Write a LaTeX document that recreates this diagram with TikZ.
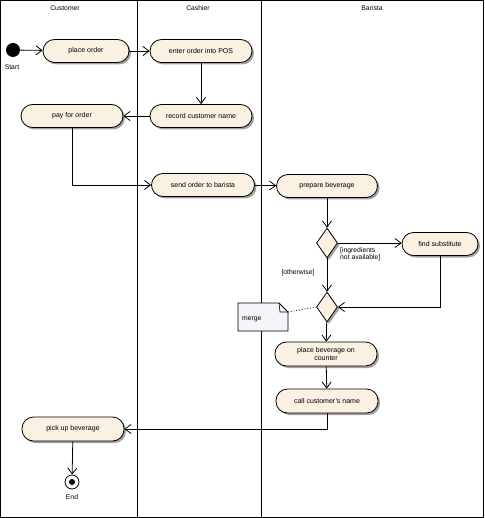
\documentclass[tikz,border=0pt]{standalone}
\usepackage{fontspec}
\setmainfont{Liberation Sans}
\usetikzlibrary{arrows.meta,shapes.geometric,shadows,calc}
\definecolor{actfill}{HTML}{FBF1E3}
\definecolor{notefill}{HTML}{F6F4F8}
\definecolor{shadowgray}{HTML}{A0A0A0}
\tikzset{
  act/.style={draw, line width=0.8pt, fill=actfill, rounded corners=11.5pt,
    minimum height=23pt, inner sep=1pt, align=center, font=\fontsize{7}{7.5}\selectfont,
    drop shadow={shadow xshift=2pt, shadow yshift=-2pt, fill=shadowgray, opacity=1}},
  dec/.style={draw, line width=0.8pt, fill=actfill, diamond, minimum width=21pt,
    minimum height=30pt, inner sep=0pt, aspect=0.7,
    drop shadow={shadow xshift=2pt, shadow yshift=-2pt, fill=shadowgray, opacity=1}},
  flow/.style={line width=0.8pt, -{Straight Barb[length=6pt,width=9pt,line width=0.8pt]}},
  lbl/.style={font=\fontsize{6.8}{7.6}\selectfont, inner sep=0pt},
  lane/.style={line width=0.8pt}
}
\begin{document}
\begin{tikzpicture}[x=1pt,y=-1pt]
\useasboundingbox (0,0) rectangle (484,518);
% frame and lanes
\draw[lane] (0.5,0.5) rectangle (483.5,517.5);
\draw[lane] (137,0.5) -- (137,517.5);
\draw[lane] (261,0.5) -- (261,517.5);
\node[lbl] (hcust) at (65,8) {Customer};
\node[lbl] (hcash) at (198,8) {Cashier};
\node[lbl] (hbar) at (372,8) {Barista};
% start
\node[circle, fill=black, minimum size=14pt, inner sep=0pt] (start) at (13,50) {};
\node[lbl] (startlbl) at (12,67) {Start};
% actions
\node[act, minimum width=86pt] (po) at (86,51) {place order};
\node[act, minimum width=102pt] (eop) at (201,51) {enter order into POS};
\node[act, minimum width=102pt] (rcn) at (201,116) {record customer name};
\node[act, minimum width=102pt] (pfo) at (72,116) {pay for order};
\node[act, minimum width=103pt] (sob) at (203,185) {send order to barista};
\node[act, minimum width=101pt] (pb) at (327,186) {prepare beverage};
\node[dec] (d1) at (327,243) {};
\node[act, minimum width=76pt] (fs) at (440,244) {find substitute};
\node[dec] (d2) at (327,307) {};
\node[act, minimum width=102pt, minimum height=24pt] (pbc) at (326,354) {place beverage on\\counter};
\node[act, minimum width=102pt, minimum height=24pt] (ccn) at (327,401) {call customer's name};
\node[act, minimum width=102pt, minimum height=24pt] (pub) at (73,429) {pick up beverage};
% end
\node[circle, draw, line width=0.8pt, fill=white, minimum size=14pt, inner sep=0pt] (end) at (72,482) {};
\node[circle, fill=black, minimum size=6pt, inner sep=0pt] (enddot) at (end.center) {};
\node[lbl] (endlbl) at (72,497) {End};
% note
\fill[notefill] (238,303) -- (279,303) -- (288,312) -- (288,331) -- (238,331) -- cycle;
\draw[line width=0.8pt] (238,303) -- (279,303) -- (288,312) -- (288,331) -- (238,331) -- cycle;
\draw[line width=0.6pt] (279,303) -- (280,312) -- (288,312);
\node[lbl, anchor=west] (note) at (242,319) {merge};
\coordinate (notec) at (288,312);
\draw[line width=0.8pt, dotted] (notec) -- (d2.west);
% flows
\draw[flow] (start) -- (po);
\draw[flow] (po) -- (eop);
\draw[flow] (eop) -- (rcn);
\draw[flow] (rcn) -- (pfo);
\draw[flow] (pfo.south) |- (sob.west);
\draw[flow] (sob) -- (pb);
\draw[flow] (pb) -- (d1);
\draw[flow] (d1.east) -- (d1.east -| fs.west);
\draw[flow] (d1) -- (d2);
\draw[flow] (fs.south) |- (d2.east);
\draw[flow] (d2) -- (pbc);
\draw[flow] (pbc) -- (ccn);
\draw[flow] (ccn.south) |- (pub.east);
\draw[flow] (pub) -- (end);
% guards
\node[lbl, anchor=north west, align=left] (g1) at (340,247) {[ingredients\\not available]};
\node[lbl] (g2) at (298,273) {[otherwise]};
\end{tikzpicture}
\end{document}
